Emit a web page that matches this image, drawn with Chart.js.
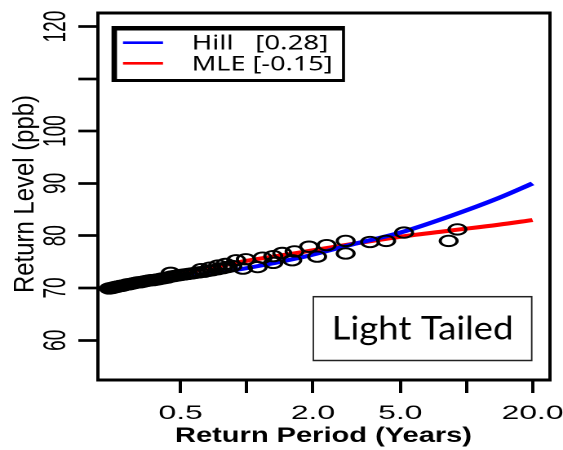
<!DOCTYPE html>
<html><head><meta charset="utf-8">
<script src="https://cdn.jsdelivr.net/npm/chart.js@4"></script>
<style>
html,body{margin:0;padding:0;background:#fff;overflow:hidden;}
#wrap{width:345px;height:450px;transform:scaleX(1.63188);transform-origin:0 0;}
canvas{display:block;}
</style></head><body>
<div id="wrap"><canvas id="c" width="345" height="450"></canvas></div>
<script>
// ---- data ----
const xTickValues = [0.5, 1, 2, 5, 10, 20];
const xTickLabels = ['0.5', '', '2.0', '5.0', '', '20.0'];
const yTickValues = [60, 70, 80, 90, 100, 110, 120];
const yTickLabels = ['60', '70', '80', '90', '100', '', '120'];
const xTitle = 'Return Period (Years)';
const yTitle = 'Return Level (ppb)';
const legendLabels = ['Hill   [0.28]', 'MLE [-0.15]'];
const boxText = 'Light Tailed';

const curvePeriod = [0.236, 0.3, 0.4, 0.6, 1.0, 1.75, 3.0, 5.0, 8.5, 14, 20];
const hillLevel   = [70.0, 70.9, 71.6, 72.5, 73.8, 75.8, 78.3, 80.6, 83.8, 87.2, 90.0];
const mleLevel    = [70.0, 71.1, 72.1, 73.4, 75.2, 76.8, 78.4, 79.8, 81.0, 82.1, 83.0];

const obsPeriod = [0.236,0.24,0.244,0.248,0.252,0.256,0.26,0.265,0.27,0.275,0.28,0.286,0.292,0.298,0.305,0.312,0.32,0.328,0.336,0.345,0.355,0.365,0.375,0.386,0.398,0.41,0.423,0.437,0.45,0.452,0.468,0.485,0.503,0.522,0.542,0.563,0.585,0.61,0.62,0.64,0.67,0.68,0.70,0.74,0.74,0.78,0.80,0.82,0.86,
  0.895,0.96,0.99,1.12,1.18,1.32,1.32,1.45,1.61,1.65,1.92,2.09,2.31,2.82,2.82,3.64,4.31,5.2,8.3,9.1];
const obsLevel = [69.9,70.0,70.0,70.1,70.2,70.2,70.3,70.4,70.4,70.5,70.6,70.7,70.7,70.8,70.9,71.0,71.1,71.1,71.2,71.3,71.4,71.5,71.5,71.6,71.7,71.8,71.9,72.0,72.9,72.2,72.3,72.4,72.5,72.6,72.7,72.8,72.9,73.0,73.6,73.1,73.3,73.9,73.4,73.6,74.3,73.8,74.6,74.0,74.2,
  75.3,73.7,75.5,74.0,75.8,74.8,76.1,76.7,75.3,77.0,77.9,76.0,78.2,79.0,76.6,78.8,79.0,80.6,79.0,81.2];

const S = 563 / 345;

function fitText(ctx, txt, x, y, w, font) {
  ctx.save();
  ctx.font = font;
  ctx.textAlign = 'left';
  ctx.textBaseline = 'alphabetic';
  const m = ctx.measureText(txt).width;
  ctx.translate(x, y);
  ctx.scale(w / m, 1);
  ctx.fillText(txt, 0, 0);
  ctx.restore();
}

const overlay = {
  id: 'overlay',
  afterDraw(chart) {
    const ctx = chart.ctx, a = chart.chartArea, ys = chart.scales.y;
    ctx.save();
    ctx.fillStyle = '#000';
    // plot box
    ctx.fillRect(a.left - 1, a.top - 1.5, a.right - a.left + 2, 3);
    ctx.fillRect(a.left - 1, a.bottom - 1.5, a.right - a.left + 2, 3);
    ctx.fillRect(a.left - 1, a.top - 1.5, 2, a.bottom - a.top + 3);
    ctx.fillRect(a.right - 1, a.top - 1.5, 2, a.bottom - a.top + 3);
    // rotated y tick labels
    ctx.font = '19px "Liberation Sans", Arial, sans-serif';
    ctx.textAlign = 'center';
    ctx.textBaseline = 'alphabetic';
    yTickValues.forEach((v, i) => {
      if (!yTickLabels[i]) return;
      const py = ys.getPixelForValue(v);
      ctx.save();
      ctx.translate(39.8, py);
      ctx.rotate(-Math.PI / 2);
      ctx.fillText(yTickLabels[i], 0, 0);
      ctx.restore();
    });
    // switch to screen (stretched) units
    ctx.scale(1 / S, 1);
    // y title
    ctx.save();
    ctx.translate(33.3, 293);
    ctx.rotate(-Math.PI / 2);
    fitText(ctx, yTitle, 0, 0, 198, '28.9px "Liberation Sans", Arial, sans-serif');
    ctx.restore();
    // x title
    fitText(ctx, xTitle, 175, 442, 297, 'bold 21px "Liberation Sans", Arial, sans-serif');
    // legend
    ctx.fillStyle = '#000';
    ctx.fillRect(111.5, 26, 233.5, 56);
    ctx.fillStyle = '#fff';
    ctx.fillRect(117, 30.5, 225, 48.5);
    ctx.lineWidth = 2.6;
    ctx.strokeStyle = '#0000ff';
    ctx.beginPath(); ctx.moveTo(123, 42.7); ctx.lineTo(163, 42.7); ctx.stroke();
    ctx.strokeStyle = '#ff0000';
    ctx.beginPath(); ctx.moveTo(123, 63.3); ctx.lineTo(163, 63.3); ctx.stroke();
    ctx.fillStyle = '#000';
    fitText(ctx, legendLabels[0], 191.7, 49.3, 136.6, '20px "Noto Sans", sans-serif');
    fitText(ctx, legendLabels[1], 191.7, 70.7, 141, '20px "Noto Sans", sans-serif');
    // Light Tailed box
    ctx.strokeStyle = '#222';
    ctx.lineWidth = 1.5;
    ctx.strokeRect(313.3, 296.7, 218.4, 63.8);
    fitText(ctx, boxText, 331.7, 339.3, 181.7, '32.5px Lato, "Noto Sans", sans-serif');
    ctx.restore();
  }
};

const pts = (xs, ys) => xs.map((x, i) => ({ x: x, y: ys[i] }));

new Chart(document.getElementById('c'), {
  type: 'scatter',
  data: {
    datasets: [
      { label: 'Observed', data: pts(obsPeriod, obsLevel), pointStyle: 'circle', pointRadius: 5.2,
        pointBorderWidth: 1.9, borderColor: '#000', backgroundColor: 'rgba(0,0,0,0)', order: 0 },
      { label: 'Hill', type: 'line', data: pts(curvePeriod, hillLevel), showLine: true, borderColor: '#0000ff',
        borderWidth: 4, pointRadius: 0, fill: false, cubicInterpolationMode: 'monotone', order: 1 },
      { label: 'MLE', type: 'line', data: pts(curvePeriod, mleLevel), showLine: true, borderColor: '#ff0000',
        borderWidth: 4, pointRadius: 0, fill: false, cubicInterpolationMode: 'monotone', order: 2 }
    ]
  },
  options: {
    responsive: false, animation: false, devicePixelRatio: 2,
    layout: { padding: { left: 0, right: 8, top: 13, bottom: 0 } },
    plugins: { legend: { display: false }, tooltip: { enabled: false } },
    scales: {
      x: {
        type: 'logarithmic', min: 0.21, max: 24,
        afterBuildTicks(s) { s.ticks = xTickValues.map(v => ({ value: v })); },
        afterFit(s) { s.height = 70; s.paddingLeft = 0; s.paddingRight = 0; },
        grid: { drawOnChartArea: false, drawTicks: true, tickLength: 13, tickWidth: 2, tickColor: '#000' },
        border: { display: false },
        ticks: { autoSkip: false, maxRotation: 0, minRotation: 0, padding: 9, color: '#000',
          font: { family: '"Liberation Sans", Arial, sans-serif', size: 19.5 },
          callback(v, i) { return xTickLabels[i]; } }
      },
      y: {
        type: 'linear', min: 52.4, max: 122.6,
        afterBuildTicks(s) { s.ticks = yTickValues.map(v => ({ value: v })); },
        afterFit(s) { s.width = 60; },
        grid: { drawOnChartArea: false, drawTicks: true, tickLength: 12, tickWidth: 2.7, tickColor: '#000' },
        border: { display: false },
        ticks: { display: false }
      }
    }
  },
  plugins: [overlay]
});
</script>
</body></html>
